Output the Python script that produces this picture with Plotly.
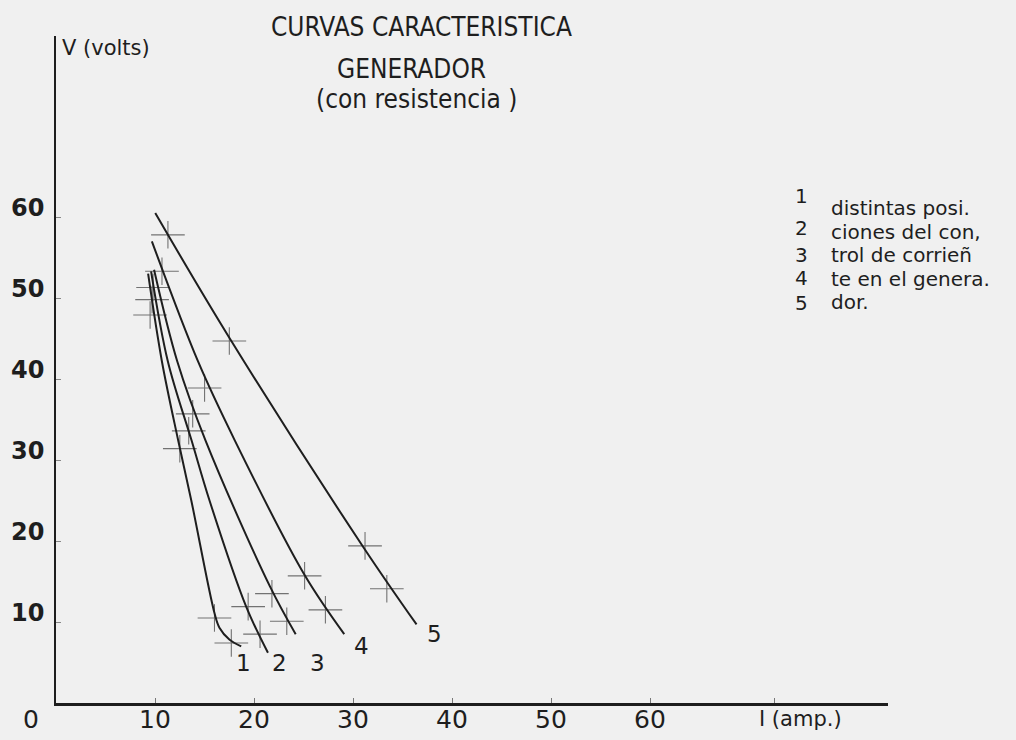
import plotly.graph_objects as go

# ---- data (I in amperes, V in volts) ----
c1_i = [9.3, 10.69, 12.34, 13.66, 16.0, 16.5, 17.5, 18.7]
c1_v = [53.0, 42.2, 32.4, 25.0, 11.1, 9.3, 7.85, 7.0]
c2_i = [9.6, 11.29, 13.69, 15.5, 19.2, 21.4]
c2_v = [53.3, 42.2, 32.4, 25.0, 11.9, 6.2]
c3_i = [9.9, 12.24, 15.1, 21.6, 24.2]
c3_v = [53.5, 42.2, 32.4, 14.4, 8.5]
c4_i = [9.68, 14.33, 18.06, 25.1, 29.1]
c4_v = [57.0, 42.2, 32.4, 15.8, 8.5]
c5_i = [10.02, 17.5, 31.0, 36.4]
c5_v = [60.5, 45.1, 19.3, 9.7]

p1_i = [9.5, 12.5, 16.0, 17.7]
p1_v = [47.9, 31.4, 10.5, 7.4]
p2_i = [9.7, 13.4, 19.4, 20.6]
p2_v = [49.8, 33.6, 11.9, 8.5]
p3_i = [9.8, 13.8, 21.8, 23.3]
p3_v = [51.3, 35.7, 13.5, 10.1]
p4_i = [10.7, 15.0, 25.1, 27.2]
p4_v = [53.3, 38.9, 15.7, 11.5]
p5_i = [11.3, 17.5, 31.2, 33.4]
p5_v = [57.8, 44.7, 19.4, 14.1]

curve_labels = ["1", "2", "3", "4", "5"]
label_i = [18.9, 22.6, 26.4, 30.8, 38.2]
label_v = [5.0, 5.0, 5.0, 7.0, 8.5]

x_ticks = [10, 20, 30, 40, 50, 60]
y_ticks = [10, 20, 30, 40, 50, 60]

title_lines = ["CURVAS CARACTERISTICA", "GENERADOR", "(con resistencia )"]
note_numbers = ["1", "2", "3", "4", "5"]
note_lines = ["distintas posi.", "ciones del con,", "trol de corrieñ", "te en el genera.", "dor."]

X_MAX = 84.0
Y_MAX = 82.35

FONT = "DejaVu Sans, sans-serif"
FONT_C = "DejaVu Sans Condensed, DejaVu Sans, sans-serif"
INK = "#1e1e1e"
BG = "#f0f0f0"

# page-pixel -> paper helpers (plot area: x 56..888, y 36..703)
L, T, W, H = 56, 36, 832, 667
def px(xp):
    return (xp - L) / W
def py(yp):
    return (T + H - yp) / H

def f(size, family=FONT, weight="normal"):
    return dict(family=family, size=size, color=INK, weight=weight)

fig = go.Figure()

curves = [(c1_i, c1_v), (c2_i, c2_v), (c3_i, c3_v), (c4_i, c4_v), (c5_i, c5_v)]
points = [(p1_i, p1_v), (p2_i, p2_v), (p3_i, p3_v), (p4_i, p4_v), (p5_i, p5_v)]

for (pi, pv) in points:
    fig.add_trace(go.Scatter(
        x=pi, y=pv, mode="markers",
        marker=dict(size=2, color="rgba(0,0,0,0)"),
        error_x=dict(type="constant", value=1.7, color="#727272", thickness=1.1, width=0),
        error_y=dict(type="constant", value=1.7, color="#727272", thickness=1.1, width=0),
        showlegend=False, hoverinfo="skip"))

for (ci, cv) in curves:
    fig.add_trace(go.Scatter(
        x=ci, y=cv, mode="lines",
        line=dict(color=INK, width=2, shape="spline", smoothing=1.0),
        showlegend=False))

annotations = []
for lab, li, lv in zip(curve_labels, label_i, label_v):
    annotations.append(dict(x=li, y=lv, text=lab, showarrow=False, font=f(23)))

# tick labels (placed in paper space so they can sit outside the plot area)
for v in y_ticks:
    annotations.append(dict(xref="paper", yref="paper", x=px(46), y=v / Y_MAX, text=str(v),
                            showarrow=False, xanchor="right", yanchor="middle", yshift=9,
                            font=f(24, weight="bold")))
for v in x_ticks:
    annotations.append(dict(xref="paper", yref="paper", x=v / X_MAX, y=0, text=str(v),
                            showarrow=False, xanchor="center", yanchor="middle", yshift=-16,
                            font=f(25)))
annotations.append(dict(xref="paper", yref="paper", x=px(31), y=0, text="0", showarrow=False,
                        xanchor="center", yanchor="middle", yshift=-16, font=f(25)))
annotations.append(dict(xref="paper", yref="paper", x=px(757), y=0, text="I (amp.)",
                        showarrow=False, xanchor="left", yanchor="middle", yshift=-16,
                        font=f(21)))
annotations.append(dict(xref="paper", yref="paper", x=px(60), y=py(48), text="V (volts)",
                        showarrow=False, xanchor="left", yanchor="middle", font=f(21)))

title_px = [(421, 27), (411, 69), (417, 99)]
for t, (tx, ty) in zip(title_lines, title_px):
    annotations.append(dict(xref="paper", yref="paper", x=px(tx), y=py(ty), text=t,
                            showarrow=False, xanchor="center", yanchor="middle",
                            font=f(26, FONT_C)))

num_py = [196, 228, 255, 278, 303]
for n, ny in zip(note_numbers, num_py):
    annotations.append(dict(xref="paper", yref="paper", x=px(801), y=py(ny), text=n,
                            showarrow=False, xanchor="center", yanchor="middle", font=f(20)))
line_py = [208, 231.5, 255, 278.5, 302]
for t, ty in zip(note_lines, line_py):
    annotations.append(dict(xref="paper", yref="paper", x=px(829), y=py(ty), text=t,
                            showarrow=False, xanchor="left", yanchor="middle", font=f(20)))

fig.update_layout(
    width=1016, height=740,
    margin=dict(l=L, r=1016 - L - W, t=T, b=740 - T - H, pad=0),
    paper_bgcolor=BG, plot_bgcolor=BG,
    showlegend=False,
    annotations=annotations,
    xaxis=dict(range=[0, X_MAX], showgrid=False, zeroline=False, showline=True,
               linecolor=INK, linewidth=2.5, ticks="inside", ticklen=5, tickwidth=1,
               tickcolor="#777", tickvals=x_ticks + [72.5], showticklabels=False),
    yaxis=dict(range=[0, Y_MAX], showgrid=False, zeroline=False, showline=True,
               linecolor=INK, linewidth=2, ticks="inside", ticklen=5, tickwidth=1,
               tickcolor="#888", tickvals=y_ticks, showticklabels=False),
)

fig.write_html("out.html")
